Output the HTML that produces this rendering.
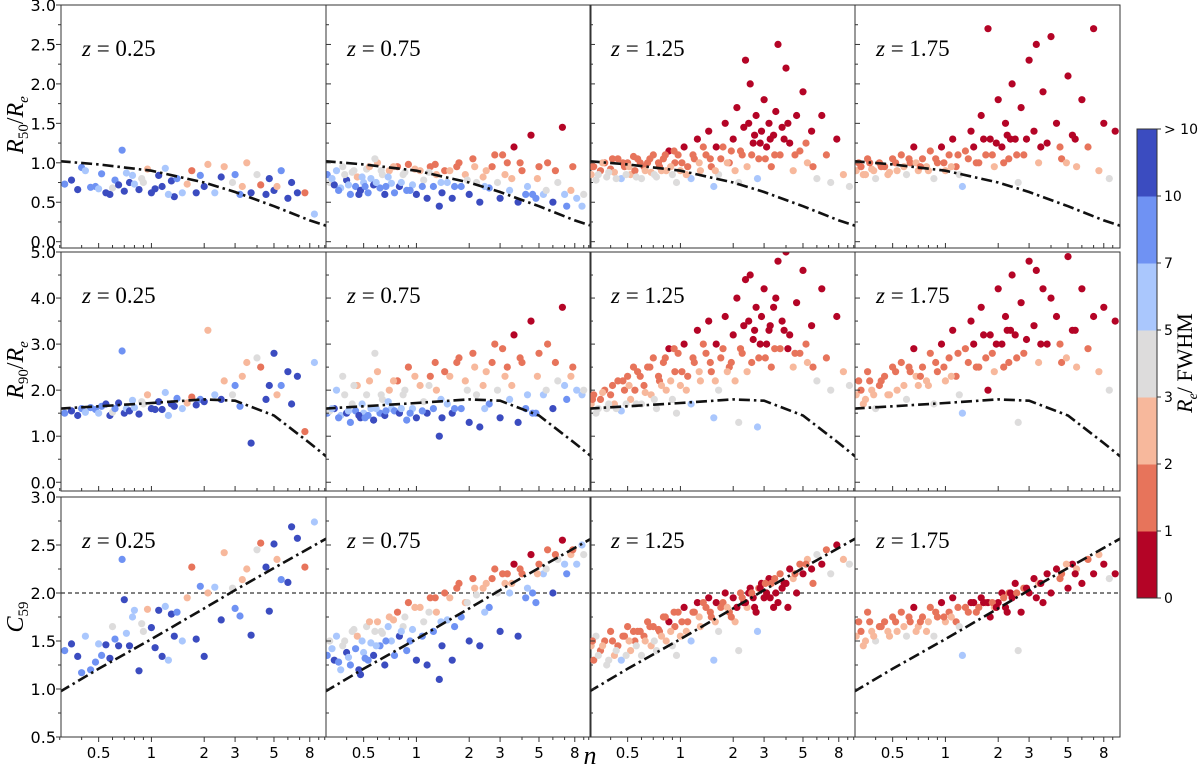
<!DOCTYPE html>
<html><head><meta charset="utf-8"><style>
html,body{margin:0;padding:0;background:#fff;width:1200px;height:768px;overflow:hidden}
svg{display:block}
</style></head><body>
<svg id="chart" width="1200" height="768" viewBox="0 0 1200 768" xmlns="http://www.w3.org/2000/svg"></svg>
<script>
// ---- data: columns n, R50/Re, R90/Re, C59, colour class (0: 0-1 ... 6: >10)
const redshifts = ["0.25","0.75","1.25","1.75"];
const classColors = ["#b40426","#e7745b","#f7b89c","#dddcdc","#aac7fd","#6f92f3","#3b4cc0"];
const classTicks = ["0","1","2","3","5","7","10","> 10"];
const xTicks = [0.5,1,2,3,5,8];
const xTickLabels = ["0.5","1","2","3","5","8"];
const xMinor = [0.3,0.4,0.6,0.7,0.8,0.9,4,6,7,9];
const row1Ticks = [0,0.5,1,1.5,2,2.5,3];
const row2Ticks = [0,1,2,3,4,5];
const row3Ticks = [0.5,1,1.5,2,2.5,3];
const curveN   = [0.3,0.5,1,2,3,5,8,10];
const curveR50 = [1.02,0.98,0.9,0.75,0.63,0.45,0.27,0.2];
const curveR90 = [1.6,1.65,1.72,1.8,1.77,1.45,0.85,0.55];
const curveC59 = [0.97,1.21,1.52,1.84,2.03,2.26,2.47,2.57];
const galaxiesZ025 = [[0.32,0.73,1.5,1.40,5],[0.35,0.78,1.55,1.47,6],[0.38,0.66,1.45,1.34,6],[0.4,0.94,1.6,1.17,5],[0.42,0.9,1.52,1.55,4],[0.45,0.69,1.62,1.2,5],[0.48,0.7,1.58,1.28,5],[0.5,0.67,1.5,1.47,4],[0.52,0.86,1.65,1.35,5],[0.55,0.62,1.7,1.46,6],[0.58,0.6,1.45,1.32,6],[0.6,0.68,1.52,1.65,3],[0.62,0.78,1.6,1.52,5],[0.65,0.72,1.72,1.45,6],[0.68,1.16,2.85,2.35,5],[0.7,0.64,1.5,1.93,6],[0.72,0.87,1.6,1.58,4],[0.75,0.75,1.55,1.45,6],[0.78,0.84,1.78,1.75,4],[0.8,0.73,1.62,1.82,4],[0.85,0.66,1.48,1.19,6],[0.9,0.75,1.7,1.6,3],[0.95,0.92,1.9,1.83,2],[1.0,0.62,1.6,1.64,6],[1.05,0.67,1.58,1.43,6],[1.1,0.84,1.75,1.82,6],[1.15,0.7,1.58,1.34,6],[1.2,0.93,1.95,1.86,4],[1.3,0.77,1.7,1.78,6],[1.35,0.57,1.65,1.55,6],[1.4,0.8,1.82,1.8,5],[1.5,0.62,1.6,1.5,4],[1.6,0.73,1.72,1.95,2],[1.7,0.9,1.85,2.27,1],[1.8,0.62,1.68,1.52,6],[1.9,0.84,1.8,2.07,5],[2.0,0.7,1.75,1.34,6],[2.1,0.98,3.3,2.0,2],[2.3,0.62,1.9,2.06,4],[2.5,0.82,1.8,1.72,6],[2.6,0.95,2.2,2.42,2],[2.9,0.75,1.9,2.05,3],[3.0,0.85,2.1,1.84,5],[3.3,0.7,2.3,2.14,2],[3.5,1.0,2.6,2.25,2],[3.7,0.62,0.85,1.56,6],[4.0,0.85,2.7,2.45,3],[4.2,0.72,2.5,2.52,1],[4.5,0.6,1.8,2.27,6],[4.7,0.8,2.1,1.81,6],[5.0,0.65,2.8,2.51,6],[5.5,0.9,2.1,2.14,5],[6.0,0.55,2.4,2.11,6],[6.3,0.75,1.7,2.69,6],[6.8,0.62,2.3,2.57,6],[7.5,0.62,1.1,2.27,1],[8.5,0.35,2.6,2.74,4],[5.2,0.7,1.9,2.35,2],[3.2,0.6,1.65,1.76,5],[1.25,0.6,1.45,1.3,4],[0.88,0.8,1.75,1.68,3]];
const galaxiesZ075 = [[0.31,0.85,1.5,1.35,5],[0.32,0.75,1.55,1.5,3],[0.34,0.72,1.6,1.3,6],[0.35,0.9,2.0,1.55,4],[0.37,0.68,1.45,1.2,4],[0.38,0.95,2.3,1.45,3],[0.4,0.78,1.5,1.38,6],[0.42,0.6,1.3,1.25,5],[0.43,0.88,1.7,1.6,3],[0.45,0.7,1.55,1.42,5],[0.46,0.82,2.1,1.55,2],[0.48,0.65,1.4,1.15,6],[0.5,0.75,1.5,1.38,4],[0.52,0.92,1.9,1.65,3],[0.53,0.62,1.45,1.3,5],[0.55,0.8,1.6,1.48,4],[0.57,0.72,1.35,1.35,6],[0.6,1.0,2.4,1.7,2],[0.62,0.68,1.5,1.45,5],[0.64,0.85,1.8,1.58,3],[0.66,0.6,1.45,1.25,6],[0.7,0.9,2.0,1.75,2],[0.72,0.74,1.6,1.5,4],[0.75,0.62,1.55,1.35,5],[0.78,0.95,2.2,1.8,1],[0.8,0.7,1.5,1.55,6],[0.84,0.85,1.9,1.65,3],[0.88,0.65,1.35,1.4,5],[0.9,0.98,2.5,1.9,1],[0.95,0.72,1.6,1.62,4],[1.0,0.6,1.4,1.3,6],[1.05,0.9,2.1,1.85,2],[1.1,0.78,1.75,1.7,3],[1.15,0.55,1.5,1.25,6],[1.2,0.95,2.3,1.95,1],[1.25,0.7,1.6,1.6,5],[1.3,0.85,2.0,1.8,2],[1.4,0.62,1.4,1.45,6],[1.45,0.9,2.4,2.0,1],[1.5,0.75,1.7,1.72,4],[1.6,0.55,1.5,1.3,6],[1.7,0.95,2.6,2.05,1],[1.8,0.7,1.6,1.75,5],[1.9,0.85,2.2,1.9,2],[2.0,0.6,1.3,1.5,6],[2.1,1.05,2.8,2.15,1],[2.2,0.75,1.9,1.98,3],[2.3,0.5,1.2,1.45,6],[2.5,0.9,2.4,2.1,2],[2.6,0.68,1.7,1.85,5],[2.8,1.1,3.0,2.25,1],[3.0,0.55,1.4,1.6,6],[3.2,0.85,2.3,2.1,2],[3.4,0.65,1.8,2.0,4],[3.6,1.2,3.2,2.3,0],[3.8,0.5,1.3,1.55,6],[4.0,0.9,2.6,2.2,1],[4.3,0.7,1.9,2.05,4],[4.5,1.35,3.5,2.4,0],[4.8,0.55,1.5,1.9,5],[5.0,0.95,2.8,2.3,1],[5.3,0.6,1.9,2.2,4],[5.6,1.0,3.0,2.45,1],[6.0,0.5,1.6,2.0,6],[6.4,0.75,2.2,2.35,3],[6.8,1.45,3.8,2.55,0],[7.2,0.45,1.8,2.2,5],[7.6,0.65,2.3,2.4,2],[8.2,0.55,2.0,2.3,4],[8.8,0.45,1.9,2.5,4],[1.35,0.45,1.0,1.1,6],[0.58,1.05,2.8,1.6,3],[2.4,0.82,2.1,2.05,2],[4.6,0.6,1.5,2.0,5],[3.3,1.0,2.5,2.2,1],
[0.33,0.8,1.6,1.42,4],[0.36,0.65,1.4,1.28,5],[0.39,0.85,1.9,1.5,3],[0.41,0.72,1.55,1.33,4],[0.44,0.9,2.1,1.62,3],[0.47,0.6,1.45,1.2,6],[0.49,0.82,1.7,1.5,4],[0.51,0.7,1.4,1.32,5],[0.54,0.95,2.2,1.7,2],[0.59,0.75,1.6,1.45,4],[0.63,0.9,1.9,1.6,3],[0.67,0.7,1.55,1.5,5],[0.69,0.82,1.75,1.65,4],[0.74,0.95,2.2,1.72,2],[0.82,0.75,1.6,1.6,4],[0.86,0.88,2.0,1.75,3],[0.92,0.65,1.5,1.5,5],[0.98,0.92,2.3,1.85,2],[1.08,0.7,1.55,1.55,5],[1.18,0.88,2.1,1.8,3],[1.28,0.98,2.6,1.95,1],[1.38,0.75,1.8,1.7,4],[1.55,0.9,2.3,1.95,2],[1.65,0.7,1.6,1.65,5],[1.75,1.0,2.7,2.1,1],[1.95,0.78,2.0,1.9,3],[2.15,0.95,2.5,2.05,2],[2.45,0.7,1.6,1.8,4],[2.7,0.95,2.6,2.15,1],[2.9,0.75,2.0,2.0,3],[3.1,1.1,2.9,2.2,1],[3.5,0.8,2.1,2.1,2],[3.9,1.0,2.7,2.25,1],[4.2,0.6,1.6,1.95,5],[4.9,0.8,2.3,2.2,2],[5.5,0.65,2.0,2.25,3],[6.2,0.9,2.6,2.4,1],[7.0,0.6,2.1,2.3,4],[7.8,0.95,2.5,2.45,1],[9.0,0.6,2.0,2.4,3]];
const galaxiesZ125 = [[0.31,0.85,1.7,1.45,2],[0.32,0.95,1.9,1.3,1],[0.33,0.78,1.5,1.55,3],[0.35,0.9,1.8,1.4,1],[0.37,1.0,2.0,1.5,1],[0.38,0.82,1.6,1.25,3],[0.4,0.92,1.9,1.6,1],[0.42,0.88,1.7,1.35,2],[0.44,1.05,2.2,1.45,1],[0.46,0.8,1.55,1.3,4],[0.48,0.95,2.0,1.55,1],[0.5,1.0,2.3,1.65,1],[0.52,0.85,1.8,1.4,2],[0.55,0.9,2.0,1.5,1],[0.57,1.05,2.4,1.6,1],[0.6,0.8,1.7,1.35,3],[0.62,0.95,2.1,1.55,1],[0.65,1.0,2.5,1.7,1],[0.68,0.88,1.9,1.45,2],[0.7,1.1,2.7,1.65,1],[0.73,0.82,1.6,1.4,3],[0.76,0.95,2.2,1.6,1],[0.8,1.05,2.6,1.75,1],[0.83,0.9,2.0,1.5,2],[0.86,1.15,2.9,1.7,0],[0.9,0.85,1.8,1.45,3],[0.93,1.0,2.4,1.65,1],[0.97,1.1,2.8,1.8,1],[1.0,0.9,2.1,1.55,2],[1.05,1.2,3.0,1.85,0],[1.1,0.95,2.3,1.7,1],[1.15,0.8,1.7,1.5,4],[1.2,1.05,2.6,1.8,1],[1.25,1.3,3.3,1.9,0],[1.3,0.9,2.2,1.65,2],[1.4,1.1,2.8,1.85,1],[1.45,1.4,3.5,1.95,0],[1.5,0.95,2.4,1.75,1],[1.6,1.2,3.0,1.9,0],[1.65,0.85,2.0,1.6,3],[1.7,1.05,2.7,1.85,1],[1.8,1.5,3.6,2.0,0],[1.9,1.0,2.5,1.8,1],[2.0,1.3,3.2,1.95,0],[2.05,0.9,2.2,1.7,2],[2.1,1.7,4.0,1.85,0],[2.2,1.15,2.9,2.0,1],[2.3,1.45,3.4,1.9,0],[2.4,0.95,2.4,1.85,2],[2.5,2.0,4.5,2.05,0],[2.6,1.25,3.1,1.95,0],[2.7,1.6,3.8,1.8,0],[2.8,1.05,2.7,2.05,1],[2.9,1.4,3.6,2.1,0],[3.0,1.8,4.2,1.95,0],[3.1,1.2,3.0,2.0,0],[3.2,1.5,3.3,2.15,0],[3.3,0.95,2.5,2.1,1],[3.4,1.35,3.8,1.85,0],[3.5,1.65,4.0,2.0,0],[3.7,1.1,2.9,2.2,1],[3.8,1.45,3.5,2.05,0],[4.0,2.2,5.0,2.1,0],[4.2,1.25,3.2,2.25,0],[4.4,0.9,2.5,2.15,2],[4.6,1.6,3.9,2.0,0],[4.8,1.15,2.8,2.3,1],[5.0,1.9,4.6,2.2,0],[5.3,1.0,2.6,2.35,2],[5.6,1.4,3.4,2.25,0],[6.0,0.8,2.2,2.4,3],[6.4,1.6,4.2,2.3,0],[6.8,1.1,2.7,2.45,1],[7.2,0.75,2.0,2.2,3],[7.8,1.3,3.6,2.5,0],[8.5,0.85,2.4,2.35,2],[9.2,0.7,2.1,2.3,3],[1.55,0.7,1.4,1.3,4],[2.15,0.75,1.3,1.4,3],[2.75,0.8,1.2,1.6,4],[0.95,0.75,1.5,1.35,3],[3.6,2.5,4.8,1.9,0],[2.35,2.3,4.4,1.9,0],[1.95,1.15,2.6,1.75,1],[4.1,1.5,2.9,1.85,0],[5.7,0.95,2.5,2.1,1],
[0.315,0.95,1.8,1.5,1],[0.34,0.85,1.6,1.35,3],[0.36,1.0,1.95,1.45,2],[0.39,0.88,1.7,1.3,3],[0.41,1.05,2.1,1.5,1],[0.43,0.8,1.6,1.4,3],[0.47,1.0,2.2,1.55,1],[0.49,0.85,1.7,1.35,3],[0.51,0.95,2.1,1.5,2],[0.54,1.08,2.5,1.6,1],[0.56,0.82,1.7,1.45,3],[0.59,1.0,2.3,1.6,1],[0.63,0.9,1.95,1.5,2],[0.67,1.05,2.5,1.65,1],[0.71,0.85,1.8,1.5,3],[0.75,1.0,2.3,1.62,1],[0.78,0.9,2.1,1.55,2],[0.82,1.1,2.7,1.75,1],[0.88,0.95,2.2,1.6,2],[0.92,1.15,2.9,1.8,1],[1.02,1.0,2.4,1.7,1],[1.08,0.85,2.0,1.6,2],[1.18,1.1,2.7,1.8,1],[1.28,1.0,2.4,1.75,2],[1.35,1.2,3.0,1.9,1],[1.48,1.05,2.6,1.8,1],[1.58,0.9,2.2,1.7,2],[1.75,1.2,2.9,1.9,1],[1.85,1.0,2.4,1.85,2],[2.25,1.1,2.8,1.95,1],[2.45,1.5,3.5,2.0,0],[2.55,1.1,2.6,2.0,1],[2.65,1.35,3.3,1.85,0],[2.85,1.25,3.0,2.05,0],[3.05,1.05,2.7,2.1,1],[3.25,1.3,3.4,1.95,0],[3.45,1.1,2.9,2.15,1],[3.9,1.3,3.3,2.1,0],[4.5,1.1,2.8,2.2,1],[5.2,1.25,3.0,2.3,1]];
const galaxiesZ175 = [[0.31,0.9,1.9,1.55,2],[0.32,1.0,2.2,1.7,1],[0.34,0.85,1.7,1.45,2],[0.36,1.05,2.4,1.8,1],[0.38,0.92,2.0,1.6,2],[0.4,0.8,1.6,1.5,3],[0.42,1.0,2.1,1.65,1],[0.45,0.95,2.3,1.7,1],[0.48,0.88,1.9,1.55,2],[0.5,1.05,2.5,1.75,1],[0.53,0.9,2.0,1.6,2],[0.56,1.1,2.6,1.8,1],[0.6,0.85,1.8,1.55,3],[0.63,1.0,2.4,1.7,1],[0.66,1.2,2.9,1.85,0],[0.7,0.9,2.1,1.65,2],[0.74,1.05,2.5,1.75,1],[0.78,0.95,2.2,1.6,2],[0.82,1.15,2.8,1.85,1],[0.86,0.8,1.7,1.55,3],[0.9,1.0,2.4,1.75,1],[0.95,1.2,3.0,1.9,0],[1.0,0.9,2.2,1.7,2],[1.05,1.1,2.7,1.8,1],[1.1,1.3,3.3,1.95,0],[1.15,0.95,2.3,1.7,1],[1.2,0.85,1.9,1.65,3],[1.3,1.15,2.9,1.85,1],[1.4,1.4,3.5,1.9,0],[1.5,1.0,2.5,1.8,1],[1.6,1.6,3.8,1.95,0],[1.7,1.1,2.7,1.9,1],[1.8,1.3,3.2,1.75,0],[1.9,0.95,2.4,1.85,2],[2.0,1.8,4.2,1.9,0],[2.1,1.2,3.0,2.0,0],[2.2,1.5,3.6,1.85,0],[2.3,1.05,2.6,2.0,1],[2.4,2.0,4.5,1.95,0],[2.5,1.3,3.2,2.1,0],[2.7,1.7,3.9,1.8,0],[2.8,1.1,2.8,2.05,1],[3.0,2.3,4.8,2.0,0],[3.2,1.4,3.4,2.15,0],[3.4,1.0,2.6,2.1,2],[3.6,1.9,4.2,1.9,0],[3.8,1.25,3.0,2.2,0],[4.0,2.6,4.0,2.0,0],[4.3,1.5,3.6,2.25,0],[4.6,1.05,2.6,2.2,1],[5.0,2.1,4.9,2.05,0],[5.3,1.35,3.3,2.3,0],[5.6,0.95,2.5,2.25,2],[6.0,1.8,4.2,2.1,0],[6.5,1.2,2.9,2.35,1],[7.0,2.7,3.6,2.2,0],[7.5,0.9,2.4,2.4,2],[8.0,1.5,3.8,2.3,0],[8.6,0.8,2.0,2.15,3],[9.3,1.4,3.5,2.2,0],[1.25,0.7,1.5,1.35,4],[2.6,0.75,1.3,1.4,3],[1.75,2.7,2.0,1.9,0],[3.3,2.5,4.6,1.95,0],[2.25,1.35,3.3,1.8,0],[0.68,1.0,2.3,1.6,2],[4.9,1.0,2.7,2.3,2],
[0.33,0.95,2.0,1.6,1],[0.35,0.85,1.8,1.5,2],[0.37,1.0,2.2,1.7,1],[0.39,0.9,1.9,1.55,2],[0.43,0.95,2.2,1.65,1],[0.47,0.85,1.9,1.6,2],[0.52,1.0,2.4,1.7,1],[0.58,0.95,2.1,1.65,2],[0.62,1.05,2.5,1.75,1],[0.72,0.95,2.3,1.7,1],[0.8,0.9,2.1,1.7,2],[0.88,1.05,2.6,1.8,1],[0.98,1.0,2.5,1.75,1],[1.08,0.95,2.3,1.75,2],[1.18,1.1,2.8,1.85,1],[1.35,1.05,2.6,1.8,1],[1.45,1.2,3.0,1.9,0],[1.55,1.0,2.5,1.85,1],[1.65,1.3,3.2,1.9,0],[1.85,1.1,2.8,1.9,1],[1.95,1.25,3.0,1.85,0],[2.15,1.0,2.5,1.95,1],[2.35,1.3,3.3,2.0,0],[2.55,1.1,2.7,2.0,1],[2.9,1.3,3.1,2.05,0],[3.5,1.2,3.0,2.1,0],[4.5,1.2,3.0,2.15,1],[5.5,1.3,3.3,2.2,0]];
const datasets = [galaxiesZ025,galaxiesZ075,galaxiesZ125,galaxiesZ175];

const NS="http://www.w3.org/2000/svg";
const svg=document.getElementById('chart');
function mk(tag,attrs,parent){const e=document.createElementNS(NS,tag);for(const k in attrs)e.setAttribute(k,attrs[k]);(parent||svg).appendChild(e);return e;}
const colX=[61,326,590,855], colW=265;
const rows=[
 {top:5,bot:248,ymin:-0.08,ymax:3.0,ticks:row1Ticks,fmt:v=>v.toFixed(1),key:1,curve:curveR50,name:"r50"},
 {top:252,bot:491,ymin:-0.19,ymax:5.0,ticks:row2Ticks,fmt:v=>v.toFixed(1),key:2,curve:curveR90,name:"r90"},
 {top:497,bot:737,ymin:0.5,ymax:3.0,ticks:row3Ticks,fmt:v=>v.toFixed(1),key:3,curve:curveC59,name:"c59"}];
const lxmin=Math.log10(0.305), lxmax=Math.log10(9.9);
function xs(c,n){return colX[c]+(Math.log10(n)-lxmin)/(lxmax-lxmin)*colW;}
function ys(r,v){return r.bot-(v-r.ymin)/(r.ymax-r.ymin)*(r.bot-r.top);}

rows.forEach((r,ri)=>{
 colX.forEach((x0,ci)=>{
  const g=mk('g',{});
  
  
  const cid='clip'+ri+ci;
  const cp=mk('clipPath',{id:cid},g);mk('rect',{x:x0,y:r.top,width:colW,height:r.bot-r.top},cp);
  const pg=mk('g',{'clip-path':'url(#'+cid+')'},g);
  if(ri===2){const dl=mk('line',{x1:x0,x2:x0+colW,y1:ys(r,2),y2:ys(r,2),stroke:'#000','stroke-width':1,'stroke-dasharray':'4,3'},pg);
   }
  datasets[ci].forEach(d=>{
   const c=mk('circle',{cx:xs(ci,d[0]).toFixed(1),cy:ys(r,d[r.key]).toFixed(1),r:3.6,fill:classColors[d[4]]},pg);
   
   
  });
  const pts=curveN.map((n,i)=>xs(ci,n).toFixed(1)+','+ys(r,r.curve[i]).toFixed(1)).join(' ');
  const cl=mk('polyline',{points:pts,fill:'none',stroke:'#111','stroke-width':2.6,'stroke-dasharray':'11,4,2.5,4'},pg);
  
  mk('rect',{x:x0,y:r.top,width:colW,height:r.bot-r.top,fill:'none',stroke:'#333','stroke-width':1},g);
  xTicks.forEach(t=>mk('line',{x1:xs(ci,t),x2:xs(ci,t),y1:r.bot,y2:r.bot+(ri===2?5:-5),stroke:'#333'},g));
  xMinor.forEach(t=>mk('line',{x1:xs(ci,t),x2:xs(ci,t),y1:r.bot,y2:r.bot+(ri===2?3:-3),stroke:'#333'},g));
  if(ri===2) xTicks.forEach((t,i)=>{const tx=mk('text',{x:xs(ci,t),y:758,'text-anchor':'middle','font-size':15,'font-family':'DejaVu Sans, sans-serif'},g);tx.textContent=xTickLabels[i];
   });
  r.ticks.forEach(t=>{const y=ys(r,t);mk('line',{x1:x0,x2:ci===0?x0-5:x0+5,y1:y,y2:y,stroke:'#333'},g);
   if(ci===0){const tx=mk('text',{x:56,y:y+6,'text-anchor':'end','font-size':16,'font-family':'DejaVu Sans, sans-serif'},g);tx.textContent=r.fmt(t);
    }
   const step=r.ticks[1]-r.ticks[0];const ym=ys(r,t+step/2);if(ym>r.top)mk('line',{x1:x0,x2:ci===0?x0-3:x0+3,y1:ym,y2:ym,stroke:'#333'},g);
  });
  const zt=mk('text',{x:x0+21,y:(r.top+51),'font-size':23,'font-family':'Liberation Serif, serif'},g);
  zt.innerHTML='<tspan font-style="italic">z</tspan> = '+redshifts[ci];
  
 });
});
function addText(txt,attrs,name){const t=mk('text',attrs);t.innerHTML=txt;return t;}
addText('<tspan font-style="italic">R</tspan><tspan font-size="15" dy="5">50</tspan><tspan dy="-5">/</tspan><tspan font-style="italic">R</tspan><tspan font-size="15" font-style="italic" dy="5">e</tspan>',{x:0,y:0,transform:'translate(23,125) rotate(-90)','text-anchor':'middle','font-size':24,'font-family':'Liberation Serif, serif'},'y-axis-title-r50');
addText('<tspan font-style="italic">R</tspan><tspan font-size="15" dy="5">90</tspan><tspan dy="-5">/</tspan><tspan font-style="italic">R</tspan><tspan font-size="15" font-style="italic" dy="5">e</tspan>',{x:0,y:0,transform:'translate(23,370) rotate(-90)','text-anchor':'middle','font-size':24,'font-family':'Liberation Serif, serif'},'y-axis-title-r90');
addText('<tspan font-style="italic">C</tspan><tspan font-size="15" dy="5">59</tspan>',{x:0,y:0,transform:'translate(23,617) rotate(-90)','text-anchor':'middle','font-size':24,'font-family':'Liberation Serif, serif'},'y-axis-title-c59');
addText('<tspan font-style="italic">n</tspan>',{x:590,y:764,'text-anchor':'middle','font-size':26,'font-family':'Liberation Serif, serif'},'x-axis-title');
const cbX=1137,cbW=20,cbTop=129,cbBot=598,bh=(cbBot-cbTop)/classColors.length;
const cb=mk('g',{});
classColors.forEach((c,i)=>{mk('rect',{x:cbX,y:cbBot-(i+1)*bh,width:cbW,height:bh+0.5,fill:c},cb);});
mk('rect',{x:cbX,y:cbTop,width:cbW,height:cbBot-cbTop,fill:'none',stroke:'#333'},cb);
classTicks.forEach((t,i)=>{const y=cbBot-i*bh;mk('line',{x1:cbX+cbW,x2:cbX+cbW+4,y1:y,y2:y,stroke:'#333'},cb);
 const tx=mk('text',{x:cbX+cbW+7,y:y+5,'font-size':14,'font-family':'DejaVu Sans, sans-serif'},cb);tx.textContent=t;
 });
addText('<tspan font-style="italic">R</tspan><tspan font-size="14" font-style="italic" dy="5">e</tspan><tspan dy="-5">/ FWHM</tspan>',{x:0,y:0,transform:'translate(1192,363) rotate(-90)','text-anchor':'middle','font-size':22,'font-family':'Liberation Serif, serif'},'colorbar-title');
</script>
</body></html>
